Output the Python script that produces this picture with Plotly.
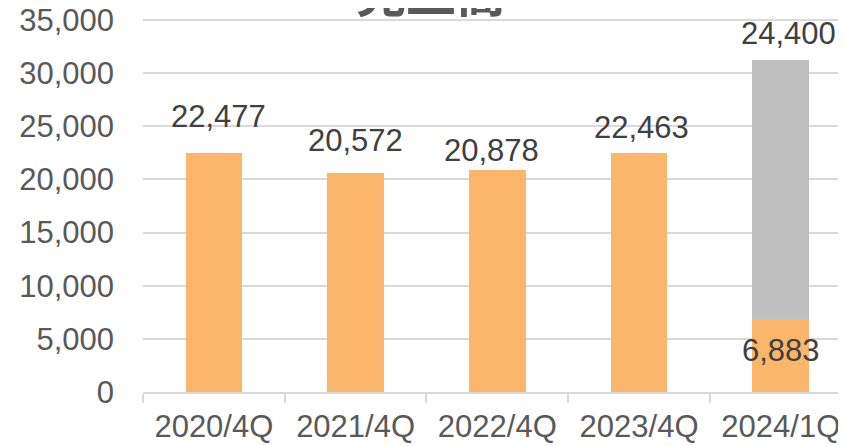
import plotly.graph_objects as go

categories = ["2020/4Q", "2021/4Q", "2022/4Q", "2023/4Q", "2024/1Q"]
actual = [22477, 20572, 20878, 22463, 6883]
forecast = [None, None, None, None, 24400]
y_ticks = [0, 5000, 10000, 15000, 20000, 25000, 30000, 35000]

# label placement (pixel offsets of label middle from bar top) – style only
actual_label_dy = [37, 33, 20, 26, -32]
actual_label_dx = [5, 0, -6, 2, 0]
forecast_label_dy = 26
forecast_label_dx = 8

ORANGE = "#FBB66B"
GREY = "#BFBFBF"
TEXT = "#404040"
AXIS_TXT = "#595959"
GRID = "#D9D9D9"
NUMFONT = "Liberation Sans, Arial, sans-serif"
FS = 31

fig = go.Figure()
fig.add_trace(go.Bar(x=categories, y=actual, marker_color=ORANGE, width=0.4,
                     marker_line_width=0, hoverinfo="skip"))
fig.add_trace(go.Bar(x=categories, y=forecast, marker_color=GREY, width=0.4,
                     marker_line_width=0, hoverinfo="skip"))

annotations = []
for i, (c, v) in enumerate(zip(categories, actual)):
    annotations.append(dict(x=c, y=v, xref="x", yref="y", text=f"{v:,}",
                            showarrow=False, yanchor="middle", xanchor="center",
                            yshift=actual_label_dy[i], xshift=actual_label_dx[i],
                            font=dict(family=NUMFONT, size=FS, color=TEXT)))
for i, (c, f) in enumerate(zip(categories, forecast)):
    if f is None:
        continue
    top = f + actual[i]
    annotations.append(dict(x=c, y=top, xref="x", yref="y", text=f"{f:,}",
                            showarrow=False, yanchor="middle", xanchor="center",
                            yshift=forecast_label_dy, xshift=forecast_label_dx,
                            font=dict(family=NUMFONT, size=FS, color=TEXT)))
annotations.append(dict(x=0.41, y=1, xref="paper", yref="paper",
                        text="<b>売上高</b>", showarrow=False,
                        yanchor="bottom", xanchor="center", yshift=-10,
                        font=dict(family="Noto Sans CJK JP", size=50, color=AXIS_TXT)))

fig.update_layout(
    width=838, height=438,
    margin=dict(l=135, r=0, t=10, b=54, pad=0),
    paper_bgcolor="white", plot_bgcolor="white",
    barmode="stack", showlegend=False, bargap=0.6,
    annotations=annotations,
    xaxis=dict(range=[-0.5, 4.46], showgrid=False, showline=True,
               linecolor=GRID, linewidth=1.5, ticks="outside", tickson="boundaries",
               ticklen=9, tickcolor=GRID, tickwidth=1.5,
               tickfont=dict(family=NUMFONT, size=FS, color=AXIS_TXT),
               ticklabelstandoff=6, fixedrange=True, automargin=False,
               ticklabeloverflow="allow"),
    yaxis=dict(range=[0, 35188], tickvals=y_ticks,
               ticktext=[f"{t:,}" for t in y_ticks],
               showgrid=True, gridcolor=GRID, gridwidth=1.5, zeroline=False,
               showline=False, ticks="",
               tickfont=dict(family=NUMFONT, size=FS, color=AXIS_TXT),
               ticklabelstandoff=28, fixedrange=True, automargin=False,
               ticklabeloverflow="allow"),
)

fig.write_html("out.html")
